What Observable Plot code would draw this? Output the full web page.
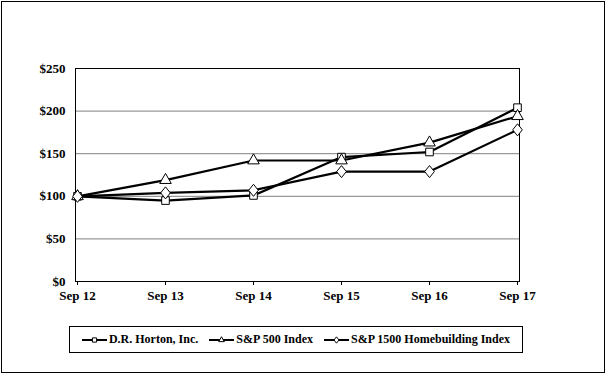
<!DOCTYPE html>
<html>
<head>
<meta charset="utf-8">
<script src="https://cdn.jsdelivr.net/npm/d3@7"></script>
<script src="https://cdn.jsdelivr.net/npm/@observablehq/plot@0.6"></script>
<style>
  html, body { margin: 0; padding: 0; background: #fff; }
  #wrap { position: relative; width: 606px; height: 376px; overflow: hidden; font-family: "Liberation Serif", "Times New Roman", serif; font-weight: bold; }
  #outer { position: absolute; left: 1px; top: 1px; width: 604px; height: 372px; box-sizing: border-box; border: 1px solid #000; pointer-events: none; }
  #legend { position: absolute; left: 69px; top: 326px; width: 454px; height: 27px; box-sizing: border-box; border: 1px solid #000; display: flex; align-items: center; justify-content: center; gap: 11px; font-size: 12px; background: #fff; }
  .item { display: flex; align-items: center; gap: 2px; white-space: nowrap; }
  .item svg { display: block; }
</style>
</head>
<body>
<div id="wrap">
  <div id="chart"></div>
  <div id="legend"></div>
  <div id="outer"></div>
</div>
<script>
const categories = ["Sep 12", "Sep 13", "Sep 14", "Sep 15", "Sep 16", "Sep 17"];
const seriesNames = ["D.R. Horton, Inc.", "S&P 500 Index", "S&P 1500 Homebuilding Index"];
const horton = [100, 95, 101, 146, 152, 204];
const sp500 = [100, 119, 142, 142, 163, 194];
const homebuilding = [100, 104, 107, 129, 129, 178];
const symbolNames = ["square", "triangle", "diamond"];
const yTicks = [0, 50, 100, 150, 200, 250];
const gridValues = [50, 100, 150, 200];

// rhombus slightly taller than wide
const rhombus = {
  draw(context, size) {
    const h = Math.sqrt(size / 1.6);
    const w = h * 0.8;
    context.moveTo(0, -h);
    context.lineTo(w, 0);
    context.lineTo(0, h);
    context.lineTo(-w, 0);
    context.closePath();
  }
};
const symObjects = {square: d3.symbolSquare, triangle: d3.symbolTriangle, diamond: rhombus};
const legendSizes = {square: 18, triangle: 14, diamond: 16};

const allSeries = [horton, sp500, homebuilding];
const rows = [];
allSeries.forEach((vals, si) => {
  vals.forEach((v, i) => rows.push({series: seriesNames[si], cat: categories[i], value: v}));
});

const marks = [
  Plot.ruleY(gridValues, {stroke: "#808080", strokeWidth: 1}),
  Plot.axisY({ticks: yTicks, tickFormat: d => "$" + d, tickSize: 0, tickPadding: 10, fontSize: 13}),
  Plot.axisX({tickSize: 4, tickPadding: 5, fontSize: 13}),
  Plot.frame({stroke: "#000", strokeWidth: 1})
];
seriesNames.forEach((name, si) => {
  const data = rows.filter(d => d.series === name);
  marks.push(Plot.line(data, {x: "cat", y: "value", stroke: "#000", strokeWidth: 2.2}));
  marks.push(Plot.dot(data, {x: "cat", y: "value", symbol: symObjects[symbolNames[si]], r: 4.3, fill: "#fff", stroke: "#000", strokeWidth: 1}));
});

const chart = Plot.plot({
  width: 606,
  height: 376,
  marginLeft: 75,
  marginRight: 87,
  marginTop: 68,
  marginBottom: 95,
  style: {fontFamily: "Liberation Serif, Times New Roman, serif", fontWeight: "bold", fontSize: "13px", color: "#000", background: "transparent"},
  x: {type: "point", domain: categories, padding: 0, label: null},
  y: {domain: [0, 250], label: null},
  marks
});
document.getElementById("chart").appendChild(chart);

// legend
const legend = document.getElementById("legend");
seriesNames.forEach((name, si) => {
  const item = document.createElement("div");
  item.className = "item";
  const svg = d3.create("svg").attr("width", 25).attr("height", 10);
  svg.append("line").attr("x1", 0).attr("x2", 25).attr("y1", 5).attr("y2", 5).attr("stroke", "#000").attr("stroke-width", 2);
  svg.append("path").attr("transform", "translate(12.5,5)")
    .attr("d", d3.symbol(symObjects[symbolNames[si]], legendSizes[symbolNames[si]])())
    .attr("fill", "#fff").attr("stroke", "#000").attr("stroke-width", 1);
  item.appendChild(svg.node());
  const span = document.createElement("span");
  span.textContent = name;
  item.appendChild(span);
  legend.appendChild(item);
});
</script>
</body>
</html>
